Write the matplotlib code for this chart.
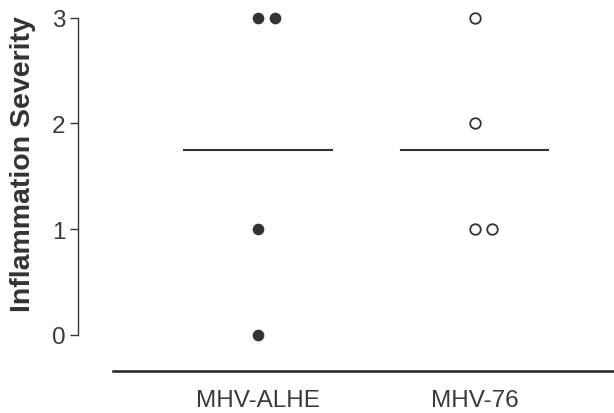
import matplotlib
matplotlib.use('Agg')
import matplotlib.pyplot as plt
import numpy as np

# severity scores per mouse for each virus strain
groups = ['MHV-ALHE', 'MHV-76']
alhe_scores = [3, 3, 1, 0]
mhv76_scores = [3, 2, 1, 1]
y_ticks = [0, 1, 2, 3]

ink = '#333333'
plt.rcParams['font.family'] = ['Liberation Sans', 'DejaVu Sans']


def spread(values, step=0.077):
    # shift repeated values sideways so they don't overlap
    seen = {}
    xs = []
    for v in values:
        k = seen.get(v, 0)
        xs.append(k * step)
        seen[v] = k + 1
    return np.array(xs)


fig = plt.figure(figsize=(6.14, 4.14), dpi=100)
ax = fig.add_axes([77.7 / 614, 42.3 / 414, 536.3 / 614, 366.7 / 414])

all_scores = [alhe_scores, mhv76_scores]
for i, scores in enumerate(all_scores):
    xs = i + spread(scores)
    if i == 0:
        ax.plot(xs, scores, 'o', ms=7.4, color=ink, mec=ink, ls='none')
    else:
        ax.plot(xs, scores, 'o', ms=7.6, mfc='white', mec=ink, mew=1.3, ls='none')
    m = np.mean(scores)
    ax.plot([i - 0.339, i + 0.339], [m, m], color=ink, lw=1.5)

ax.set_xlim(-0.831, 1.641)
ax.set_ylim(-0.34, 3.128)

ax.spines['top'].set_visible(False)
ax.spines['right'].set_visible(False)
ax.spines['left'].set_bounds(0, 3)
ax.spines['left'].set_color(ink)
ax.spines['left'].set_linewidth(1.0)
ax.spines['bottom'].set_bounds(-0.67, 1.641)
ax.spines['bottom'].set_color('#222222')
ax.spines['bottom'].set_linewidth(1.8)

ax.set_yticks(y_ticks)
ax.set_yticklabels([str(t) for t in y_ticks])
ax.set_xticks(range(len(groups)))
ax.set_xticklabels(groups)
ax.tick_params(axis='y', direction='out', length=6, width=1, color=ink,
               labelcolor='#3a3a3a', labelsize=17.5, pad=3)
ax.tick_params(axis='x', length=0, labelcolor='#3a3a3a', labelsize=17.5, pad=13)

ax.set_ylabel('Inflammation Severity', fontsize=20.5, fontweight='bold', color=ink)
ax.yaxis.set_label_coords(-0.078, 0.565)

fig.savefig('out.png', dpi=100)
